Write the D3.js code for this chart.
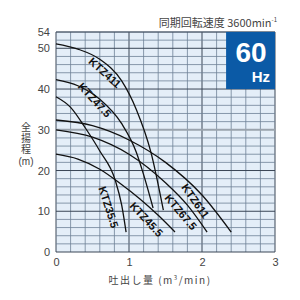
<!DOCTYPE html>
<html><head><meta charset="utf-8">
<script src="https://cdn.jsdelivr.net/npm/d3@7"></script>
<style>body{margin:0;background:#fff}svg{display:block}</style>
</head><body><svg id="c" width="300" height="300"></svg>
<script>
const xTicks = [0, 1, 2, 3];
const yTicks = [0, 10, 20, 30, 40, 50, 54];
const seriesNames = ["KTZ411", "KTZ47.5", "KTZ35.5", "KTZ611", "KTZ67.5", "KTZ45.5"];
const q411 = [0, 0.3, 0.6, 0.9, 1.1, 1.3, 1.47];
const h411 = [51.1, 49.8, 47.3, 42, 35, 24.5, 10.3];
const q475 = [0, 0.3, 0.6, 0.9, 1.1, 1.2, 1.33];
const h475 = [42.3, 40.8, 37.5, 31.5, 24.5, 19, 10.8];
const q355 = [0, 0.2, 0.4, 0.6, 0.81, 0.9, 0.96];
const h355 = [38.1, 35.5, 30.5, 24.8, 17.7, 11.5, 4.9];
const q611 = [0, 0.5, 1.0, 1.5, 2.0, 2.4];
const h611 = [32.4, 31, 27.5, 22, 14, 4.9];
const q675 = [0, 0.5, 1.0, 1.5, 1.8, 2.07];
const h675 = [30, 28.2, 24, 17, 11.5, 4.9];
const q455 = [0, 0.3, 0.6, 0.88, 1.15, 1.4, 1.63];
const h455 = [24, 22.8, 20.3, 16.8, 13, 9, 4.9];
// label anchor positions (data units) and angles
const labelQ = [0.67, 0.53, 0.72, 1.91, 1.71, 1.24];
const labelH = [44.0, 37.3, 11.0, 12.5, 9.8, 8.0];
const labelAngle = [42, 47, 72, 55, 50, 47];

const svg = d3.select("#c");
const x = d3.scaleLinear().domain([0, 3]).range([56, 275]);
const y = d3.scaleLinear().domain([0, 54]).range([252, 32]);

// background
svg.append("rect").attr("x", x(0)).attr("y", y(54)).attr("width", x(3) - x(0)).attr("height", y(0) - y(54)).attr("fill", "#e4eef8");

// grid
const g = svg.append("g");
d3.range(0, 3.0001, 0.2).forEach(v => {
  const major = Math.abs(v - Math.round(v)) < 1e-6;
  g.append("line").attr("x1", x(v)).attr("x2", x(v)).attr("y1", y(0)).attr("y2", y(54))
    .attr("stroke", major ? "#3a4656" : "#6e8197").attr("stroke-width", major ? 1 : 0.8);
});
d3.range(0, 54.001, 2).forEach(v => {
  const major = v % 10 === 0;
  g.append("line").attr("x1", x(0)).attr("x2", x(3)).attr("y1", y(v)).attr("y2", y(v))
    .attr("stroke", v === 30 ? "#9aa3ad" : (major ? "#3a4656" : "#6e8197"))
    .attr("stroke-width", v === 30 ? 2 : (major ? 1 : 0.8));
});
g.append("line").attr("x1", x(0)).attr("x2", x(3)).attr("y1", y(54)).attr("y2", y(54)).attr("stroke", "#3a4656");

// axes
const xAxis = d3.axisBottom(x).tickValues(xTicks).tickSize(0).tickPadding(6).tickFormat(d3.format("d"));
const yAxis = d3.axisLeft(y).tickValues(yTicks).tickSize(0).tickPadding(6).tickFormat(d3.format("d"));
const xa = svg.append("g").attr("transform", `translate(0,${y(0)})`).call(xAxis);
const ya = svg.append("g").attr("transform", `translate(${x(0)},0)`).call(yAxis);
[xa, ya].forEach(a => {
  a.select(".domain").remove();
  a.selectAll("text").attr("font-family", "Liberation Sans, Arial, sans-serif").attr("font-size", 11).attr("fill", "#444");
});

// 60Hz box
svg.append("rect").attr("x", x(2.33)).attr("y", y(54)).attr("width", x(3) - x(2.33)).attr("height", y(40) - y(54)).attr("fill", "#0b5aa6");
svg.append("text").attr("x", 251).attr("y", 62).attr("text-anchor", "middle").attr("font-family", "Liberation Sans, Arial, sans-serif").attr("font-weight", "bold").attr("font-size", 28).attr("fill", "#fff").text("60");
svg.append("text").attr("x", 270).attr("y", 81.5).attr("text-anchor", "end").attr("font-family", "Liberation Sans, Arial, sans-serif").attr("font-weight", "bold").attr("font-size", 15).attr("fill", "#fff").text("Hz");

// curves
const qs = [q411, q475, q355, q611, q675, q455];
const hs = [h411, h475, h355, h611, h675, h455];
const line = d3.line().x(d => x(d[0])).y(d => y(d[1])).curve(d3.curveMonotoneX);
qs.forEach((qArr, i) => {
  const pts = qArr.map((q, j) => [q, hs[i][j]]);
  svg.append("path").attr("d", line(pts)).attr("fill", "none").attr("stroke", "#111").attr("stroke-width", 1.3);
});
seriesNames.forEach((n, i) => {
  svg.append("text").attr("transform", `translate(${x(labelQ[i])},${y(labelH[i])}) rotate(${labelAngle[i]})`)
    .attr("text-anchor", "middle").attr("dy", "0.35em")
    .attr("font-family", "Liberation Sans, Arial, sans-serif").attr("font-weight", "bold").attr("font-size", 11)
    .attr("fill", "#111").text(n);
});

// titles
const t = svg.append("text").attr("x", 277).attr("y", 27).attr("text-anchor", "end").attr("font-family", "Noto Sans CJK JP, sans-serif").attr("font-size", 11).attr("fill", "#444");
t.append("tspan").text("同期回転速度 3600min");
t.append("tspan").attr("dy", -5).attr("font-size", 6).text("-1");

const yl = ["全", "揚", "程", "(m)"];
yl.forEach((c, i) => {
  svg.append("text").attr("x", 26).attr("y", 131 + i * 11.2).attr("text-anchor", "middle")
    .attr("font-family", "Liberation Sans, Noto Sans CJK JP, sans-serif").attr("font-size", 10).attr("fill", "#444").text(c);
});
const xt = svg.append("text").attr("x", 160).attr("y", 284).attr("text-anchor", "middle").attr("font-family", "Noto Sans CJK JP, sans-serif").attr("font-size", 10).attr("fill", "#444").attr("letter-spacing", 1.5);
xt.append("tspan").text("吐出し量 (m");
xt.append("tspan").attr("dy", -4).attr("font-size", 6).text("3");
xt.append("tspan").attr("dy", 4).text("/min)");
</script></body></html>
